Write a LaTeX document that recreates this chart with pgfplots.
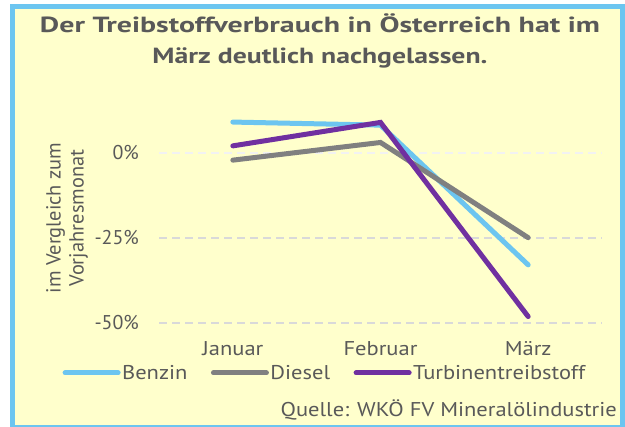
\documentclass[border=0pt]{standalone}
\usepackage{graphicx}
\usepackage{pgfplots}
\pgfplotsset{compat=1.18}
\usepackage{fontspec}
\setmainfont{PT Sans}
\newfontfamily\widefont[FakeStretch=1.13]{PT Sans}
\definecolor{frame}{HTML}{6CC5F0}
\definecolor{bg}{HTML}{FFFFCC}
\definecolor{txt}{HTML}{595959}
\definecolor{benzin}{HTML}{6CC5F0}
\definecolor{diesel}{HTML}{808080}
\definecolor{turbine}{HTML}{7030A0}
\newcommand{\fs}{\fontsize{20}{23}\selectfont}
\begin{document}
\begin{tikzpicture}
% frame and background
\fill[white] (0bp,0bp) rectangle (625bp,-427bp);
\fill[frame] (10bp,-4bp) rectangle (625bp,-427bp);
\fill[bg] (15bp,-9bp) rectangle (620bp,-425bp);
% titles
\node[font=\fontsize{22}{32}\selectfont\bfseries, text=txt, align=center, inner sep=0pt]
  at (320bp,-41bp) {\resizebox{560bp}{\height}{Der Treibstoffverbrauch in Österreich hat im}\\
                    \resizebox{335bp}{\height}{März deutlich nachgelassen.}};
\node[rotate=90, font=\fontsize{20.5}{23}\selectfont, text=txt, align=center, inner sep=0pt]
  at (67bp,-218bp) {im Vergleich zum\\Vorjahresmonat};
\node[font=\fs\widefont, text=txt, anchor=east, inner sep=0pt]
  at (617bp,-410bp) {Quelle: WKÖ FV Mineralölindustrie};

\begin{axis}[
    at={(159bp,-323bp)}, anchor=south west,
    scale only axis,
    width=443bp, height=221bp,
    xmin=-0.5, xmax=2.5,
    ymin=-50, ymax=15,
    axis line style={draw=none},
    tick style={draw=none},
    xtick={0,1,2},
    xticklabels={Januar,Februar,März},
    ytick={-50,-25},
    yticklabels={-50\%,-25\%},
    extra y ticks={0},
    extra y tick labels={0\%},
    extra y tick style={grid style={dash pattern=on 8bp off 5bp, line width=1.5bp, color=white!90!gray}},
    ymajorgrids,
    grid style={dash pattern=on 8bp off 5bp, line width=1.5bp, color=black!15},
    ticklabel style={font=\fs, text=txt, inner sep=0pt},
    yticklabel style={xshift=-20bp},
    xticklabel style={yshift=-18bp, font=\fs\widefont},
    legend style={at={(-0.218,-0.226)}, anchor=west, draw=none, fill=none,
        inner sep=0pt, font=\fs\widefont, text=txt,
        nodes={inner sep=1.5bp},
        /tikz/every even column/.append style={column sep=22bp}},
    legend columns=3,
    legend image code/.code={\draw[#1, line width=5bp, line cap=round] (0bp,0bp) -- (53bp,0bp);},
    every axis plot/.append style={line width=5bp, line cap=round, mark=none},
]
\addplot[benzin] coordinates {(0,9.1) (1,8.2) (2,-32.9)};
\addlegendentry{Benzin}
\addplot[diesel] coordinates {(0,-2.1) (1,3.1) (2,-24.9)};
\addlegendentry{Diesel}
\addplot[turbine] coordinates {(0,2.1) (1,9.0) (2,-48.1)};
\addlegendentry{Turbinentreibstoff}
\end{axis}
\end{tikzpicture}
\end{document}
